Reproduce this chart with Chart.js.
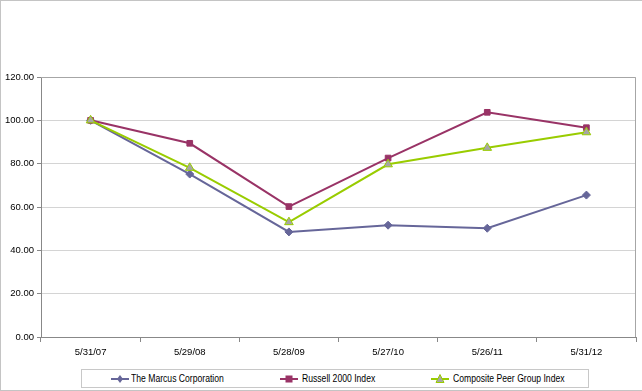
<!DOCTYPE html>
<html lang="en">
<head>
<meta charset="UTF-8" />
<title>Cumulative total return</title>
<script src="https://cdn.jsdelivr.net/npm/chart.js@4"></script>
<style>
  html, body { margin: 0; padding: 0; background: #fff; }
  #wrap { position: relative; width: 642px; height: 391px; overflow: hidden; font-family: "Liberation Sans", Arial, sans-serif; }
  #frame { position: absolute; left: 0; top: 0; width: 660px; height: 389px; border: 1px solid #c4c4c4; pointer-events: none; }
  #legend { position: absolute; left: 81px; top: 369px; width: 506px; height: 17px; border: 1px solid #c8c8c8; background: #fff; }
  .item { position: absolute; top: 0; height: 17px; font-size: 10.5px; line-height: 17px; color: #000; white-space: nowrap; }
  .item svg { position: absolute; left: 0; top: 3px; }
  .item span { position: absolute; transform: scaleX(0.82); transform-origin: 0 50%; }
</style>
</head>
<body>
<div id="wrap">
  <canvas id="chart" width="642" height="391"></canvas>
  <div id="frame"></div>
  <div id="legend"></div>
</div>
<script>
const labels = ['5/31/07', '5/29/08', '5/28/09', '5/27/10', '5/26/11', '5/31/12'];
const marcus = [100.0, 75.2, 48.5, 51.6, 50.2, 65.5];
const russell = [100.0, 89.4, 60.2, 82.6, 103.7, 96.6];
const peerGroup = [100.0, 78.1, 53.0, 79.7, 87.3, 94.5];
const yTicks = [0, 20, 40, 60, 80, 100, 120];

const seriesNames = ['The Marcus Corporation', 'Russell 2000 Index', 'Composite Peer Group Index'];
const lineColors = ['#666699', '#993366', '#99cc00'];
const fillColors = ['#666699', '#993366', '#a6a6a6'];
const markers = ['rectRot', 'rect', 'triangle'];

// top and right edges of the plot area
const plotFrame = {
  id: 'plotFrame',
  beforeDatasetsDraw(chart) {
    const a = chart.chartArea;
    const ctx = chart.ctx;
    ctx.save();
    ctx.strokeStyle = '#a6a6a6';
    ctx.lineWidth = 1;
    ctx.beginPath();
    ctx.moveTo(a.left, a.top + 0.5);
    ctx.lineTo(a.right - 0.5, a.top + 0.5);
    ctx.lineTo(a.right - 0.5, a.bottom);
    ctx.stroke();
    ctx.restore();
  }
};

const fontFamily = '"Liberation Sans", Arial, sans-serif';

new Chart(document.getElementById('chart'), {
  type: 'line',
  data: {
    labels: labels,
    datasets: [marcus, russell, peerGroup].map((d, i) => ({
      label: seriesNames[i],
      data: d,
      borderColor: lineColors[i],
      backgroundColor: fillColors[i],
      pointBackgroundColor: fillColors[i],
      pointBorderColor: lineColors[i],
      pointBorderWidth: 1,
      pointStyle: markers[i],
      pointRadius: i === 2 ? 5 : 4,
      borderWidth: 2,
      tension: 0,
      fill: false,
      order: 3 - i
    }))
  },
  options: {
    responsive: false,
    animation: false,
    layout: { padding: { top: 77, right: 6, left: 0, bottom: 0 } },
    plugins: { legend: { display: false }, tooltip: { enabled: false } },
    scales: {
      x: {
        offset: true,
        afterFit(scale) { scale.height = 54; },
        grid: { offset: true, drawOnChartArea: false, tickLength: 5, color: '#888' },
        border: { color: '#888' },
        ticks: { color: '#000', padding: 5, maxRotation: 0, font: { family: fontFamily, size: 9.5 } }
      },
      y: {
        min: 0,
        max: 120,
        afterFit(scale) { scale.width = 41; },
        afterBuildTicks(scale) { scale.ticks = yTicks.map(v => ({ value: v })); },
        grid: { color: '#d4d4d4', tickLength: 4, tickColor: '#888' },
        border: { color: '#888' },
        ticks: {
          color: '#000',
          padding: 3,
          font: { family: fontFamily, size: 9.5 },
          callback: v => v.toFixed(2)
        }
      }
    }
  },
  plugins: [plotFrame]
});

// legend row, drawn as html
const legendPos = [[29, 49], [198, 220], [349, 371]];
const legend = document.getElementById('legend');
seriesNames.forEach((name, i) => {
  const item = document.createElement('div');
  item.className = 'item';
  item.style.left = legendPos[i][0] + 'px';
  let mark;
  if (markers[i] === 'rectRot') {
    mark = '<polygon points="9,2 12,6 9,10 6,6" fill="' + fillColors[i] + '"/>';
  } else if (markers[i] === 'rect') {
    mark = '<rect x="5.5" y="2.5" width="7" height="7" fill="' + fillColors[i] + '"/>';
  } else {
    mark = '<polygon points="9,1.5 13,9.5 5,9.5" fill="' + fillColors[i] + '" stroke="' + lineColors[i] + '" stroke-width="1"/>';
  }
  item.innerHTML = '<svg width="19" height="12"><line x1="0" y1="6" x2="18" y2="6" stroke="' + lineColors[i] +
    '" stroke-width="2"/>' + mark + '</svg><span style="left:' + (legendPos[i][1] - legendPos[i][0]) + 'px">' + name + '</span>';
  legend.appendChild(item);
});
</script>
</body>
</html>
